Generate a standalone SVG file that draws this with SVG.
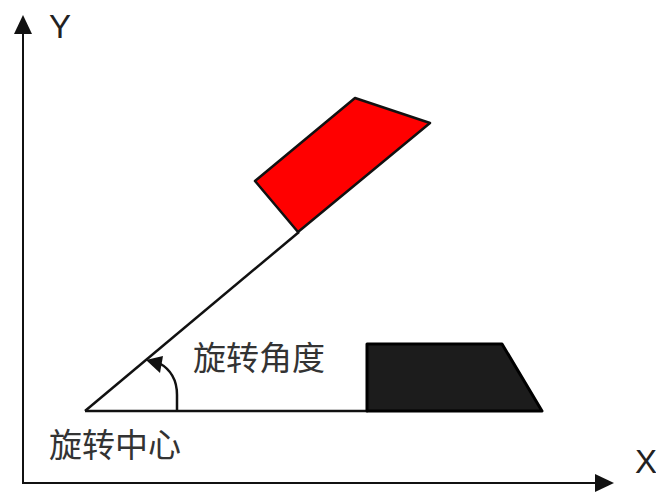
<svg xmlns="http://www.w3.org/2000/svg" width="656" height="493" viewBox="0 0 656 493">
<defs>
<style>
.ax{stroke:#111;stroke-width:2;fill:none}
.ln{stroke:#111;stroke-width:2.5;fill:none}
.lbl{font-family:"Liberation Sans",Arial,sans-serif;font-size:33px;fill:#222}
.cn{font-family:"Noto Sans CJK SC","Noto Sans",sans-serif;font-size:33px;fill:#333}
</style>
</defs>
<rect width="656" height="493" fill="#fff"/>
<g id="connectors">
<line class="ax" x1="23" y1="483" x2="23" y2="34"/>
<polygon points="23,15 14,34 32,34" fill="#111"/>
<line class="ax" x1="22" y1="483" x2="596" y2="483"/>
<polygon points="614,483 595,474 595,492" fill="#111"/>
<line class="ln" x1="85" y1="411" x2="368" y2="411"/>
<line class="ln" x1="85" y1="411" x2="299" y2="232"/>
<path d="M177,411 L177,395 C177,380 170,369 159,363" stroke="#111" stroke-width="2.5" fill="none"/>
<polygon points="146,360 163,356 160,373" fill="#111"/>
</g>
<g id="red-shape">
<polygon points="298,232 255,181 355,98 430,123" fill="#ff0000" stroke="#111" stroke-width="2.5" stroke-linejoin="round"/>
</g>
<g id="black-shape">
<polygon points="367,344 502,344 542,411 367,411" fill="#1c1c1c" stroke="#000" stroke-width="3" stroke-linejoin="round"/>
</g>
<g id="labels">
<text class="lbl" x="49" y="38">Y</text>
<text class="lbl" x="635" y="473">X</text>
<text class="cn" x="193" y="370">旋转角度</text>
<text class="cn" x="49" y="457">旋转中心</text>
</g>
</svg>
